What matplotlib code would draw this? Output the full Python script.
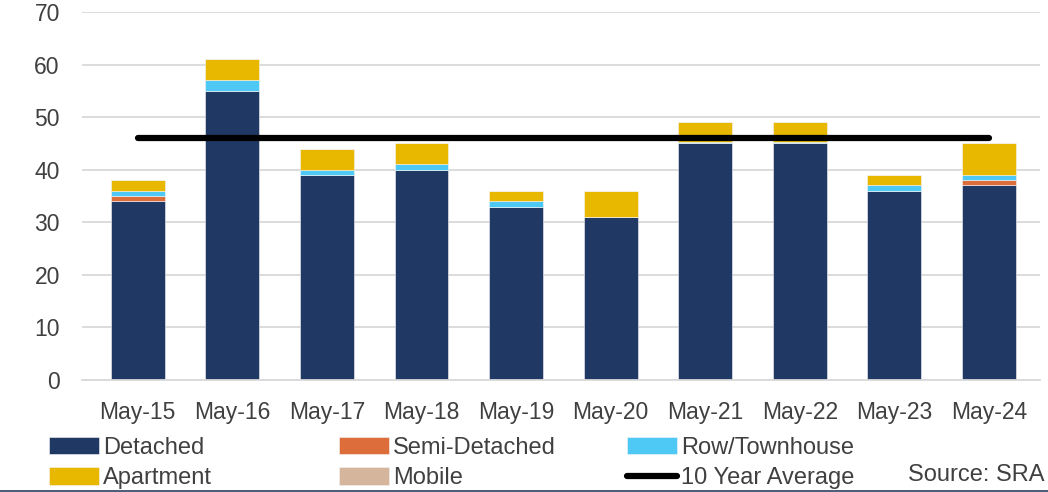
import numpy as np
import matplotlib
matplotlib.use("Agg")
import matplotlib.pyplot as plt
from matplotlib.lines import Line2D

# data
months = ["May-15", "May-16", "May-17", "May-18", "May-19",
          "May-20", "May-21", "May-22", "May-23", "May-24"]
detached = [34, 55, 39, 40, 33, 31, 45, 45, 36, 37]
semi_detached = [1, 0, 0, 0, 0, 0, 0, 0, 0, 1]
row_townhouse = [1, 2, 1, 1, 1, 0, 0.3, 0.3, 1, 1]
apartment = [2, 4, 4, 4, 2, 5, 3.7, 3.7, 2, 6]
mobile = [0, 0, 0, 0, 0, 0, 0, 0, 0, 0]
ten_year_avg = 46


def main():
    plt.rcParams['font.family'] = ['Liberation Sans', 'DejaVu Sans']

    fig = plt.figure(figsize=(10.48, 4.92), dpi=100)
    ax = fig.add_axes([82 / 1048, 1 - 380 / 492, (1040 - 82) / 1048, (380 - 12) / 492])

    x = np.arange(len(months))
    w = 0.57
    series = [
        ("Detached", detached, "#203864"),
        ("Semi-Detached", semi_detached, "#DD6D3A"),
        ("Row/Townhouse", row_townhouse, "#4EC9F5"),
        ("Apartment", apartment, "#E8B800"),
        ("Mobile", mobile, "#D5B59B"),
    ]
    bottom = np.zeros(len(months))
    handles = {}
    for name, vals, col in series:
        vals = np.array(vals, dtype=float)
        b = ax.bar(x, vals, w, bottom=bottom, color=col, label=name,
                   edgecolor="#f4f4f4", linewidth=0.4, zorder=2)
        handles[name] = b
        bottom += vals

    avg_line, = ax.plot(x, [ten_year_avg] * len(x), color="black", lw=4.5,
                        solid_capstyle="round", zorder=3, label="10 Year Average")
    handles["10 Year Average"] = avg_line

    ax.set_ylim(0, 70)
    ax.set_yticks(range(0, 71, 10))
    ax.set_xlim(-0.59, 9.54)
    ax.set_xticks(x)
    ax.set_xticklabels(months)
    ax.grid(axis="y", color="#d9d9d9", lw=1.3, zorder=0)
    for s in ["top", "right", "left"]:
        ax.spines[s].set_visible(False)
    ax.spines["bottom"].set_color("#d9d9d9")
    ax.spines["bottom"].set_linewidth(1.3)
    ax.tick_params(axis="y", length=0, labelsize=16.5, colors="#404040", pad=16)
    ax.tick_params(axis="x", length=0, labelsize=16.5, colors="#404040", pad=15)

    # three one-column legends, evenly spaced like the original
    columns = [["Detached", "Apartment"],
               ["Semi-Detached", "Mobile"],
               ["Row/Townhouse", "10 Year Average"]]
    col_x = [49, 339, 627]
    for names, cx in zip(columns, col_x):
        leg = fig.legend([handles[k] for k in names], names, ncol=1,
                         loc="upper left", bbox_to_anchor=(cx / 1048, 1 - 437 / 492),
                         frameon=False, fontsize=17, handlelength=2.1,
                         handleheight=0.75, handletextpad=0.2,
                         labelspacing=0.35, borderaxespad=0, borderpad=0)
        for t in leg.get_texts():
            t.set_color("#404040")

    fig.text(1045 / 1048, 1 - 475 / 492, "Source: SRA", ha="right", va="center",
             fontsize=17, color="#404040")
    fig.add_artist(Line2D([0, 1], [1.2 / 492, 1.2 / 492], color="#3B4E6B",
                          lw=1.3, transform=fig.transFigure))

    fig.savefig("out.png", dpi=100)


if __name__ == "__main__":
    main()
